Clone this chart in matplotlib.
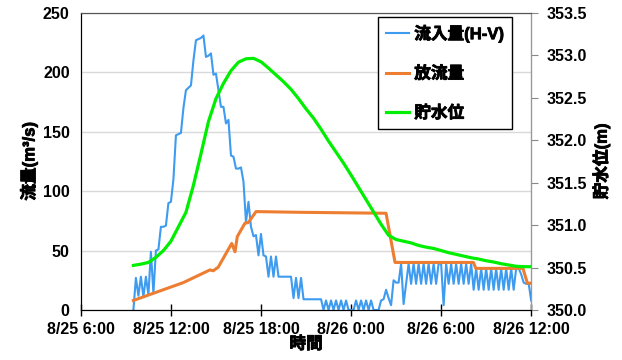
import matplotlib
matplotlib.use("Agg")
import matplotlib.pyplot as plt
import matplotlib.patheffects as pe
import numpy as np

plt.rcParams["font.family"] = ["Liberation Sans", "Noto Sans CJK JP", "DejaVu Sans"]
plt.rcParams["font.weight"] = "bold"

# hours since 8/25 0:00
XTICKS = [6, 12, 18, 24, 30, 36]
XLABELS = ["8/25 6:00", "8/25 12:00", "8/25 18:00", "8/26 0:00", "8/26 6:00", "8/26 12:00"]

# inflow (H-V), 10 min steps from 8/25 9:30
INFLOW_START = 9.5
inflow = [
    0, 27, 12, 28, 11, 28, 13, 49, 14, 50,
    51, 70, 70, 71, 90, 91, 110, 147, 148, 149,
    170, 185, 187, 189, 210, 227, 228, 229, 231, 213,
    214, 216, 198, 199, 185, 171, 171, 157, 160, 130,
    129, 119, 119, 120, 108, 74, 91, 70, 62, 63,
    46, 64, 46, 45, 28, 45, 28, 45, 28, 28,
    28, 28, 28, 28, 10, 27, 10, 27, 9, 9,
    9, 9, 9, 9, 9, 9, 0, 8, 0, 8,
    0, 8, 0, 8, 0, 8, 0, 0, 0, 8,
    0, 8, 0, 8, 0, 8, 0, 0, 0, 8,
    9, 17, 10, 4, 25, 23, 23, 39, 5, 22,
    39, 22, 39, 22, 39, 22, 39, 22, 39, 22,
    39, 22, 39, 39, 4, 39, 22, 39, 22, 39,
    22, 39, 22, 39, 22, 39, 17, 35, 17, 35,
    17, 35, 17, 35, 17, 35, 17, 35, 17, 35,
    17, 35, 17, 35, 35, 30, 23, 22, 22, 8,
]

out_t = [9.5, 10.82, 12.82, 14.6, 14.82, 15.15, 16.05, 16.27, 16.42, 16.93,
         17.15, 17.67, 20.6, 26.33, 26.93, 32.15, 32.31, 35.45, 35.75, 36.0]
outflow = [8, 14, 23, 33.7, 33, 36, 56, 49, 61.7, 73,
           73.5, 82.8, 82.2, 81.4, 40, 40, 35, 35, 22.5, 22.5]

# water level, 30 min steps from 8/25 9:30
LEVEL_START = 9.5
level = [
    350.525, 350.54, 350.56, 350.62, 350.70, 350.81, 350.98, 351.15, 351.47, 351.84,
    352.22, 352.49, 352.67, 352.82, 352.92, 352.96, 352.965, 352.925, 352.85, 352.77,
    352.69, 352.60, 352.49, 352.37, 352.26, 352.13, 351.99, 351.86, 351.73, 351.59,
    351.445, 351.30, 351.155, 351.01, 350.88, 350.83, 350.81, 350.79, 350.76, 350.74,
    350.725, 350.70, 350.675, 350.655, 350.635, 350.615, 350.60, 350.58, 350.565, 350.545,
    350.53, 350.515, 350.51, 350.51,
]

t_in = INFLOW_START + np.arange(len(inflow)) / 6.0
t_lv = LEVEL_START + np.arange(len(level)) / 2.0

BOLD = [pe.withStroke(linewidth=0.6, foreground="black")]

fig = plt.figure(figsize=(6.22, 3.6), dpi=100)
ax = fig.add_axes([0.130, 0.139, 0.724, 0.825])
ax2 = ax.twinx()

l1, = ax.plot(t_in, inflow, color="#3D9BF0", lw=1.5, label="流入量(H-V)")
l2, = ax.plot(out_t, outflow, color="#ED7D31", lw=2.2, label="放流量")
l3, = ax2.plot(t_lv, level, color="#00EE00", lw=2.3, label="貯水位")

ax.set_xlim(6, 36)
ax.set_ylim(0, 250)
ax.set_yticks([0, 50, 100, 150, 200, 250])
ax.set_xticks(XTICKS)
ax.set_xticklabels(XLABELS)
ax.grid(axis="y", color="#d9d9d9", lw=1)
ax.set_axisbelow(True)
ax.tick_params(axis="x", direction="inout", length=9, width=1, labelsize=11.5, pad=4)
ax.tick_params(axis="y", length=0, labelsize=11.5, pad=8)
for lb in ax.get_xticklabels() + ax.get_yticklabels():
    lb.set_fontweight("bold")

ax2.set_ylim(350.0, 353.5)
ax2.set_yticks(np.arange(350.0, 353.51, 0.5))
ax2.set_yticklabels([f"{v:.1f}" for v in np.arange(350.0, 353.51, 0.5)])
ax2.tick_params(axis="y", direction="out", length=5, color="#888888", labelsize=11.5, pad=6)
for lb in ax2.get_yticklabels():
    lb.set_fontweight("bold")

ax.spines["left"].set_color("black")
ax.spines["bottom"].set_color("black")
ax.spines["top"].set_color("#555555")
ax2.spines["right"].set_color("#999999")
ax2.spines["top"].set_color("#555555")

ax.set_xlabel("時間", fontsize=12, fontweight="bold", labelpad=0, path_effects=BOLD)
ax.set_ylabel("流量(m³/s)", fontsize=12, fontweight="bold", labelpad=4, path_effects=BOLD)
ax2.set_ylabel("貯水位(m)", fontsize=12, fontweight="bold", labelpad=4, path_effects=BOLD)

leg = ax2.legend(handles=[l1, l2, l3], loc="upper right", bbox_to_anchor=(0.958, 0.987),
                 borderaxespad=0, fancybox=False, edgecolor="black", framealpha=1,
                 prop={"size": 12, "weight": "bold"}, labelspacing=1.45,
                 handlelength=1.4, handletextpad=0.3, borderpad=0.5)
leg.get_frame().set_linewidth(1.0)
for t in leg.get_texts():
    t.set_path_effects(BOLD)

fig.savefig("out.png", dpi=100)
